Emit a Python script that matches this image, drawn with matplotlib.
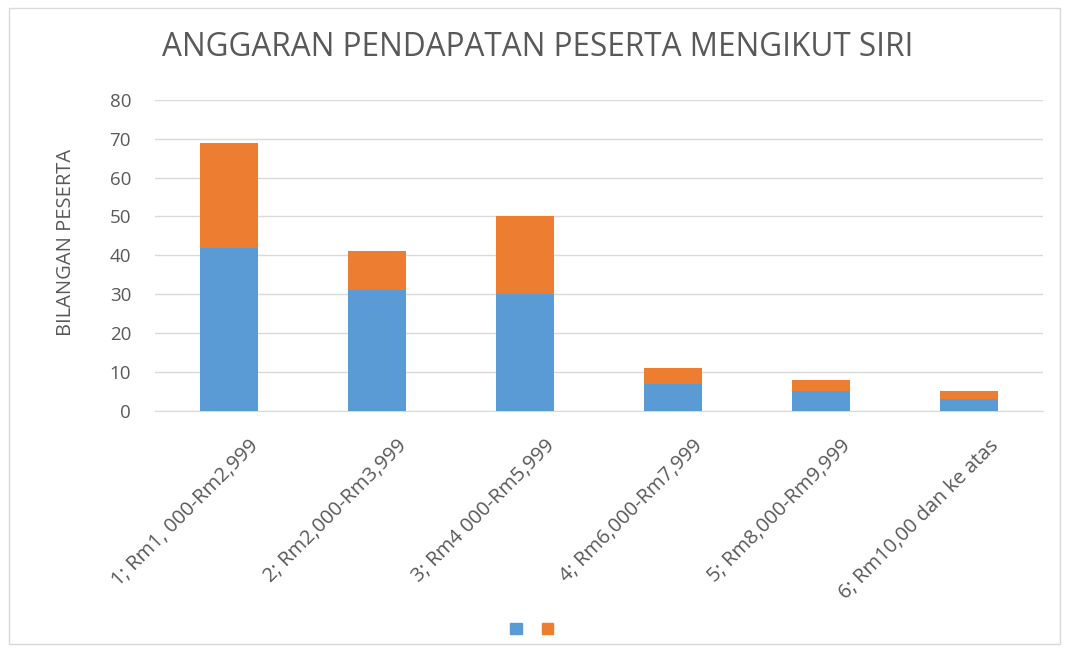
import matplotlib.pyplot as plt
import matplotlib.transforms as mtransforms
from matplotlib.patches import Rectangle, Patch

# Data
kategori = ['1; Rm1, 000-Rm2,999', '2; Rm2,000-Rm3,999', '3; Rm4 000-Rm5,999',
            '4; Rm6,000-Rm7,999', '5; Rm8,000-Rm9,999', '6; Rm10,00 dan ke atas']
siri_1 = [42, 31, 30, 7, 5, 3]
siri_2 = [27, 10, 20, 4, 3, 2]
y_ticks = [0, 10, 20, 30, 40, 50, 60, 70, 80]

plt.rcParams['font.family'] = ['Open Sans', 'DejaVu Sans']
grey = '#595959'

fig = plt.figure(figsize=(10.67, 6.51), dpi=100)
ax = fig.add_axes([0.145, 0.369, 0.8325, 0.4775])

x = range(len(kategori))
ax.bar(x, siri_1, width=0.39, color='#5B9BD5', zorder=3)
ax.bar(x, siri_2, width=0.39, bottom=siri_1, color='#ED7D31', zorder=3)

ax.set_xlim(-0.5, len(kategori) - 0.5)
ax.set_ylim(0, 80)
ax.set_yticks(y_ticks)
ax.grid(axis='y', color='#d9d9d9', linewidth=1, zorder=0)
for s in ['top', 'right', 'left']:
    ax.spines[s].set_visible(False)
ax.spines['bottom'].set_color('#d9d9d9')
ax.tick_params(axis='both', length=0, colors=grey)
ax.tick_params(axis='y', pad=17, labelsize=13.5)

ax.set_xticks(list(x))
ax.set_xticklabels(kategori, rotation=45, ha='right', rotation_mode='anchor', fontsize=14.5)
shift = mtransforms.ScaledTranslation(0.2, -0.2, fig.dpi_scale_trans)
for lbl in ax.get_xticklabels():
    lbl.set_transform(lbl.get_transform() + shift)

ax.set_ylabel('BILANGAN PESERTA', color=grey, fontsize=14.5)
ax.yaxis.set_label_coords(-0.089, 0.54)
fig.text(0.504, 0.927, 'ANGGARAN PENDAPATAN PESERTA MENGIKUT SIRI',
         ha='center', va='center', fontsize=22.7, color=grey)

handles = [Patch(color='#5B9BD5'), Patch(color='#ED7D31')]
fig.legend(handles, [' ', ' '], loc='center', bbox_to_anchor=(0.502, 0.033),
           ncol=2, frameon=False, handlelength=0.8, handleheight=0.8,
           columnspacing=0.9, handletextpad=0.3)

fig.patches.append(Rectangle((0.008, 0.01), 0.985, 0.978, transform=fig.transFigure,
                             fill=False, edgecolor='#d9d9d9', linewidth=1))

fig.savefig('out.png', dpi=100)
